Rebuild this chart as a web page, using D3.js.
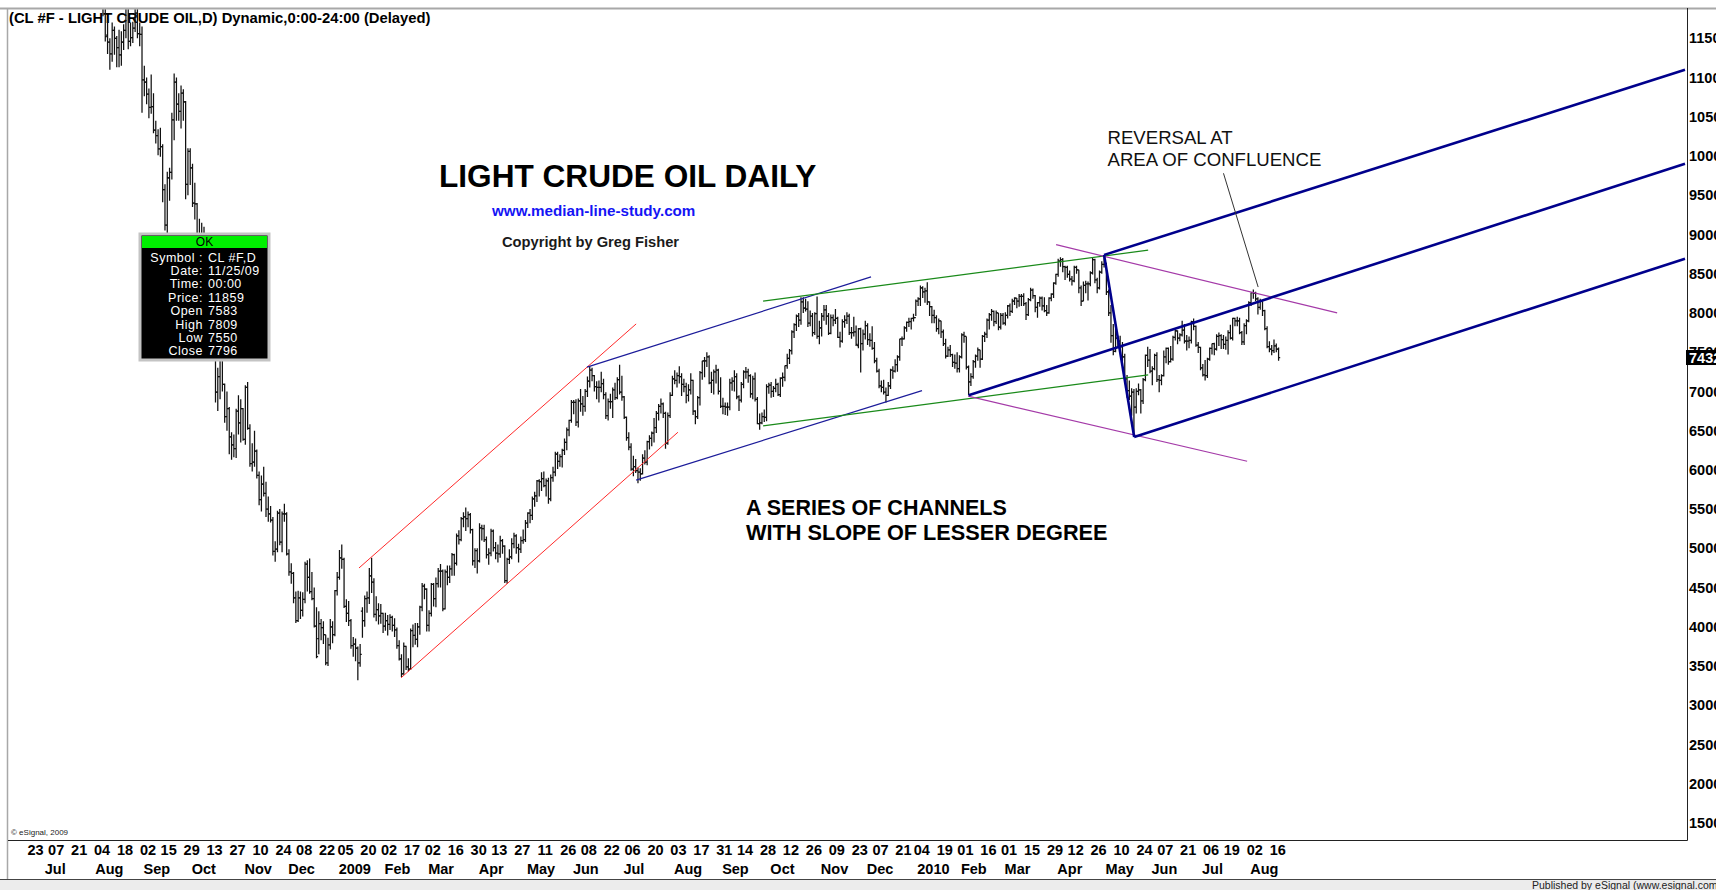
<!DOCTYPE html>
<html>
<head>
<meta charset="utf-8">
<script src="https://cdn.jsdelivr.net/npm/d3@7"></script>
<style>
  html, body { margin:0; padding:0; background:#fff; overflow:hidden; }
  svg { display:block; }
  .ax text { font-family:"Liberation Sans Narrow","Arial Narrow","Liberation Sans",sans-serif; font-weight:bold; font-size:14.5px; fill:#000; }
</style>
</head>
<body>
<script>
// exchange holidays (no bar on these weekdays)
var holidays = ["2008-07-04","2008-09-01","2008-11-27","2008-12-25","2009-01-01","2009-01-19","2009-02-16",
  "2009-04-10","2009-05-25","2009-07-03","2009-09-07","2009-11-26","2009-12-25","2010-01-01","2010-01-18",
  "2010-02-15","2010-04-02","2010-05-31","2010-07-05"];

// bottom axis labels
var dayTickDates = ["2008-06-23","2008-07-07","2008-07-21","2008-08-04","2008-08-18","2008-09-02","2008-09-15","2008-09-29",
  "2008-10-13","2008-10-27","2008-11-10","2008-11-24","2008-12-08","2008-12-22","2009-01-05","2009-01-20","2009-02-02",
  "2009-02-17","2009-03-02","2009-03-16","2009-03-30","2009-04-13","2009-04-27","2009-05-11","2009-05-26","2009-06-08",
  "2009-06-22","2009-07-06","2009-07-20","2009-08-03","2009-08-17","2009-08-31","2009-09-14","2009-09-28","2009-10-12",
  "2009-10-26","2009-11-09","2009-11-23","2009-12-07","2009-12-21","2010-01-04","2010-01-19","2010-02-01","2010-02-16",
  "2010-03-01","2010-03-15","2010-03-29","2010-04-12","2010-04-26","2010-05-10","2010-05-24","2010-06-07","2010-06-21",
  "2010-07-06","2010-07-19","2010-08-02","2010-08-16"];
var monthTickDates = ["2008-07-01","2008-08-01","2008-09-02","2008-10-01","2008-11-03","2008-12-01","2009-01-02","2009-02-02",
  "2009-03-02","2009-04-01","2009-05-01","2009-06-01","2009-07-01","2009-08-03","2009-09-01","2009-10-01","2009-11-02",
  "2009-12-01","2010-01-04","2010-02-01","2010-03-01","2010-04-01","2010-05-03","2010-06-01","2010-07-01","2010-08-02"];
var monthTickLabels = ["Jul","Aug","Sep","Oct","Nov","Dec","2009","Feb","Mar","Apr","May","Jun","Jul","Aug","Sep","Oct",
  "Nov","Dec","2010","Feb","Mar","Apr","May","Jun","Jul","Aug"];

// right axis, dollars (shown x100)
var yTicks = [15,20,25,30,35,40,45,50,55,60,65,70,75,80,85,90,95,100,105,110,115];
var lastPrice = 74.32;

// daily bars: date, open, high, low, close
var bars = [
// 2008 Aug
["2008-08-04",125.1,125.9,120.4,121.4],["2008-08-05",121.4,122.0,119.3,119.4],["2008-08-06",119.4,120.5,119.0,119.2],
["2008-08-07",119.2,121.0,117.8,120.0],["2008-08-08",120.0,120.2,114.6,115.2],["2008-08-11",115.4,117.4,113.0,114.5],
["2008-08-12",114.5,115.0,111.0,113.0],["2008-08-13",113.0,117.0,112.0,116.0],["2008-08-14",116.0,116.5,112.9,115.0],
["2008-08-15",115.0,115.3,111.3,113.8],["2008-08-18",113.8,116.1,111.3,112.9],["2008-08-19",112.9,115.9,111.5,114.5],
["2008-08-20",114.5,116.8,113.5,116.0],["2008-08-21",116.0,122.0,115.0,121.2],["2008-08-22",121.2,121.6,113.6,114.6],
["2008-08-25",114.6,117.0,114.0,115.1],["2008-08-26",115.1,117.1,114.4,116.3],["2008-08-27",116.3,120.4,115.8,118.2],
["2008-08-28",118.2,119.0,115.0,115.6],["2008-08-29",115.6,117.0,114.0,115.5],
// Sep
["2008-09-02",115.5,116.5,105.5,109.7],["2008-09-03",109.7,111.5,107.6,109.4],["2008-09-04",109.4,110.0,106.6,107.9],
["2008-09-05",107.9,108.6,104.8,106.2],["2008-09-08",106.2,110.4,105.4,106.3],["2008-09-09",106.3,108.0,102.9,103.3],
["2008-09-10",103.3,104.5,101.6,102.6],["2008-09-11",102.6,103.4,100.1,100.9],["2008-09-12",100.9,103.6,99.9,101.2],
["2008-09-15",101.2,101.5,94.1,95.7],["2008-09-16",95.7,96.4,90.5,91.2],["2008-09-17",91.2,98.0,90.0,97.2],
["2008-09-18",97.2,98.5,94.3,97.9],["2008-09-19",97.9,105.5,97.0,104.6],["2008-09-22",104.6,110.5,102.0,109.4],
["2008-09-23",109.4,110.0,104.5,106.6],["2008-09-24",106.6,108.0,104.5,105.7],["2008-09-25",105.7,109.0,103.5,108.0],
["2008-09-26",108.0,108.5,104.5,106.9],["2008-09-29",106.9,107.0,94.5,96.4],["2008-09-30",96.4,101.0,95.0,100.6],
// Oct
["2008-10-01",100.6,101.0,96.3,98.5],["2008-10-02",98.5,99.0,93.5,94.0],["2008-10-03",94.0,96.6,91.9,93.9],
["2008-10-06",93.9,94.0,87.0,87.8],["2008-10-07",87.8,92.0,87.5,90.1],["2008-10-08",90.1,91.5,86.5,89.0],
["2008-10-09",89.0,91.0,85.5,86.6],["2008-10-10",86.6,87.0,77.0,77.7],["2008-10-13",77.7,83.9,77.5,81.2],
["2008-10-14",81.2,83.3,77.5,78.6],["2008-10-15",78.6,79.5,73.9,74.5],["2008-10-16",74.5,75.4,68.6,69.9],
["2008-10-17",69.9,73.0,67.5,71.9],["2008-10-20",71.9,75.0,69.0,74.3],["2008-10-21",74.3,74.4,70.0,70.9],
["2008-10-22",70.9,71.0,66.0,66.8],["2008-10-23",66.8,70.0,65.0,67.8],["2008-10-24",67.8,68.0,62.0,64.2],
["2008-10-27",64.2,64.8,61.3,63.2],["2008-10-28",63.2,64.5,61.6,62.7],["2008-10-29",62.7,67.8,61.5,67.5],
["2008-10-30",67.5,69.5,64.5,66.0],["2008-10-31",66.0,69.0,63.5,67.8],
// Nov
["2008-11-03",67.8,67.9,63.7,63.9],["2008-11-04",63.9,70.8,63.2,70.5],["2008-11-05",70.5,71.2,65.1,65.3],
["2008-11-06",65.3,65.8,60.4,60.8],["2008-11-07",60.8,63.4,59.8,61.0],["2008-11-10",61.0,65.0,60.4,62.4],
["2008-11-11",62.4,62.6,58.9,59.3],["2008-11-12",59.3,59.8,55.5,56.2],["2008-11-13",56.2,59.3,54.7,58.2],
["2008-11-14",58.2,60.4,56.6,57.0],["2008-11-17",57.0,58.5,54.0,55.0],["2008-11-18",55.0,56.6,53.4,54.4],
["2008-11-19",54.4,55.4,53.3,53.6],["2008-11-20",53.6,54.0,49.1,49.6],["2008-11-21",49.6,50.9,48.3,49.9],
["2008-11-24",49.9,54.8,49.5,54.5],["2008-11-25",54.5,55.0,50.4,50.8],["2008-11-26",50.8,54.7,49.5,54.4],
["2008-11-28",54.4,55.7,53.4,54.4],
// Dec
["2008-12-01",54.4,54.6,49.1,49.3],["2008-12-02",49.3,49.9,46.5,47.0],["2008-12-03",47.0,48.1,45.5,46.8],
["2008-12-04",46.8,47.0,43.0,43.7],["2008-12-05",43.7,44.5,40.5,40.8],["2008-12-08",40.8,44.6,40.6,43.7],
["2008-12-09",43.7,44.5,41.0,42.1],["2008-12-10",42.1,44.4,41.3,43.5],["2008-12-11",43.5,48.3,43.0,48.0],
["2008-12-12",48.0,48.5,44.5,46.3],["2008-12-15",46.3,48.7,44.2,44.5],["2008-12-16",44.5,47.0,43.4,43.6],
["2008-12-17",43.6,45.0,39.9,40.1],["2008-12-18",40.1,42.5,36.0,36.2],["2008-12-19",38.5,42.0,36.5,40.4],
["2008-12-22",40.4,41.0,38.3,39.9],["2008-12-23",39.9,40.7,37.8,39.0],["2008-12-24",39.0,39.0,35.1,35.4],
["2008-12-26",35.4,38.6,35.0,37.7],["2008-12-29",37.7,41.0,37.1,40.0],["2008-12-30",40.0,40.7,37.9,39.0],
["2008-12-31",39.0,44.7,38.8,44.6],
// 2009 Jan
["2009-01-02",44.6,47.0,44.0,46.3],["2009-01-05",46.3,49.8,46.0,48.8],["2009-01-06",48.8,50.5,47.4,48.6],
["2009-01-07",48.6,48.8,42.4,42.6],["2009-01-08",42.6,43.5,40.6,41.7],["2009-01-09",41.7,43.3,40.1,40.8],
["2009-01-12",40.8,41.0,37.2,37.6],["2009-01-13",37.6,38.7,36.2,37.8],["2009-01-14",37.8,38.5,35.6,37.3],
["2009-01-15",37.3,37.5,33.2,35.4],["2009-01-16",35.4,37.8,34.9,36.5],["2009-01-20",42.0,42.5,38.6,40.8],
["2009-01-21",40.8,44.0,40.0,43.6],["2009-01-22",43.6,44.5,41.8,43.7],["2009-01-23",43.7,47.5,42.9,46.5],
["2009-01-26",46.5,48.8,44.3,45.7],["2009-01-27",45.7,46.2,41.2,41.6],["2009-01-28",41.6,43.9,40.7,42.2],
["2009-01-29",42.2,43.0,40.3,41.4],["2009-01-30",41.4,42.9,40.4,41.7],
// Feb
["2009-02-02",41.7,41.8,39.2,40.1],["2009-02-03",40.1,41.8,39.5,40.8],["2009-02-04",40.8,41.5,38.9,40.3],
["2009-02-05",40.3,41.6,39.6,41.2],["2009-02-06",41.2,41.4,39.4,40.2],["2009-02-09",40.2,41.1,38.7,39.6],
["2009-02-10",39.6,39.9,37.2,37.6],["2009-02-11",37.6,38.3,35.7,35.9],["2009-02-12",35.9,36.5,33.6,34.0],
["2009-02-13",34.0,38.0,33.9,37.5],["2009-02-17",37.5,37.6,34.5,34.9],["2009-02-18",34.9,36.0,34.3,34.6],
["2009-02-19",34.6,39.8,34.5,39.5],["2009-02-20",39.5,40.3,37.4,38.9],["2009-02-23",38.9,40.5,37.7,38.4],
["2009-02-24",38.4,40.5,37.4,40.0],["2009-02-25",40.0,42.7,39.0,42.5],["2009-02-26",42.5,45.6,42.0,45.2],
["2009-02-27",45.2,45.5,43.5,44.8],
// Mar
["2009-03-02",44.8,44.9,39.4,40.2],["2009-03-03",40.2,42.1,39.4,41.7],["2009-03-04",41.7,45.6,41.3,45.4],
["2009-03-05",45.4,45.6,42.6,43.6],["2009-03-06",43.6,46.3,42.5,45.5],["2009-03-09",45.5,47.5,45.0,47.1],
["2009-03-10",47.1,48.0,45.0,47.1],["2009-03-11",47.1,47.3,42.0,42.3],["2009-03-12",42.3,47.3,42.2,47.0],
["2009-03-13",47.0,47.8,45.3,46.3],["2009-03-16",46.3,47.8,45.6,47.4],["2009-03-17",47.4,49.4,46.5,49.2],
["2009-03-18",49.2,49.3,46.5,48.1],["2009-03-19",48.1,51.9,47.8,51.6],["2009-03-20",51.6,52.3,50.5,51.1],
["2009-03-23",51.1,54.0,50.9,53.8],["2009-03-24",53.8,54.6,52.7,54.0],["2009-03-25",54.0,55.2,52.2,53.8],
["2009-03-26",53.8,54.7,52.7,54.3],["2009-03-27",54.3,54.5,51.9,52.4],["2009-03-30",52.4,52.5,47.8,48.4],
["2009-03-31",48.4,50.0,47.5,49.7],
// Apr
["2009-04-01",49.7,50.0,46.8,48.4],["2009-04-02",48.4,53.2,48.2,52.6],["2009-04-03",52.6,53.0,51.0,52.5],
["2009-04-06",52.5,53.0,50.8,51.1],["2009-04-07",51.1,51.5,48.7,49.2],["2009-04-08",49.2,50.0,47.9,49.4],
["2009-04-09",49.4,52.5,49.0,52.2],["2009-04-13",52.2,52.4,49.6,50.1],["2009-04-14",50.1,50.8,48.6,49.4],
["2009-04-15",49.4,50.5,48.2,49.3],["2009-04-16",49.3,51.6,48.8,51.0],["2009-04-17",51.0,51.2,49.3,50.3],
["2009-04-20",50.3,50.4,45.6,45.9],["2009-04-21",45.9,48.8,45.5,48.6],["2009-04-22",48.6,49.9,48.0,48.9],
["2009-04-23",48.9,51.3,48.6,50.6],["2009-04-24",50.6,52.0,50.0,51.6],["2009-04-27",51.6,51.8,49.3,50.1],
["2009-04-28",50.1,50.6,48.2,49.9],["2009-04-29",49.9,51.5,49.4,51.0],["2009-04-30",51.0,52.4,50.6,51.1],
// May
["2009-05-01",51.1,53.6,50.8,53.2],["2009-05-04",53.2,54.6,52.6,54.5],["2009-05-05",54.5,55.0,53.2,54.2],
["2009-05-06",54.2,56.6,53.6,56.3],["2009-05-07",56.3,57.2,55.3,56.7],["2009-05-08",56.7,58.7,55.9,58.6],
["2009-05-11",58.6,58.8,56.6,58.5],["2009-05-12",58.5,59.7,57.3,58.9],["2009-05-13",58.9,59.8,57.8,58.0],
["2009-05-14",58.0,58.9,56.6,58.6],["2009-05-15",58.6,59.0,55.7,56.3],["2009-05-18",56.3,59.4,56.0,59.0],
["2009-05-19",59.0,60.4,58.5,59.7],["2009-05-20",59.7,62.3,59.2,62.0],["2009-05-21",62.0,62.3,60.1,61.1],
["2009-05-22",61.1,62.0,60.4,61.7],["2009-05-26",61.7,62.7,60.3,62.5],["2009-05-27",62.5,64.0,61.9,63.5],
["2009-05-28",63.5,65.4,62.5,65.1],["2009-05-29",65.1,66.4,64.3,66.3],
// Jun
["2009-06-01",66.3,68.9,66.0,68.6],["2009-06-02",68.6,68.9,67.1,68.6],["2009-06-03",68.6,69.0,65.6,66.1],
["2009-06-04",66.1,69.1,65.4,68.8],["2009-06-05",68.8,70.3,67.4,68.4],["2009-06-08",68.4,69.4,66.9,68.1],
["2009-06-09",68.1,70.3,67.4,70.0],["2009-06-10",70.0,71.9,69.3,71.3],["2009-06-11",71.3,73.2,70.5,72.7],
["2009-06-12",72.7,73.0,71.3,72.0],["2009-06-15",72.0,72.1,70.0,70.6],["2009-06-16",70.6,71.3,69.0,70.5],
["2009-06-17",70.5,71.4,68.6,70.5],["2009-06-18",70.5,72.5,69.9,71.0],["2009-06-19",71.0,71.6,69.0,69.6],
["2009-06-22",69.6,69.9,66.5,66.9],["2009-06-23",66.9,69.1,66.3,68.7],["2009-06-24",68.7,69.7,67.8,68.7],
["2009-06-25",68.7,70.5,66.6,70.2],["2009-06-26",70.2,71.1,68.9,69.2],["2009-06-29",69.2,71.8,69.0,71.5],
["2009-06-30",71.5,73.4,69.6,69.9],
// Jul
["2009-07-01",69.9,72.0,68.8,69.3],["2009-07-02",69.3,69.4,66.5,66.7],["2009-07-06",66.7,66.8,63.7,64.1],
["2009-07-07",64.1,64.8,62.5,62.9],["2009-07-08",62.9,63.4,59.9,60.1],["2009-07-09",60.1,61.8,59.2,60.4],
["2009-07-10",60.4,61.4,59.6,59.9],["2009-07-13",59.9,60.3,58.3,59.7],["2009-07-14",59.7,60.2,58.6,59.5],
["2009-07-15",59.5,62.0,59.4,61.5],["2009-07-16",61.5,62.5,60.7,61.0],["2009-07-17",61.0,63.7,60.6,63.6],
["2009-07-20",63.6,64.4,62.6,64.0],["2009-07-21",64.0,64.9,63.0,64.7],["2009-07-22",64.7,66.6,63.5,65.4],
["2009-07-23",65.4,67.5,64.7,67.2],["2009-07-24",67.2,68.4,66.3,68.1],["2009-07-27",68.1,69.1,67.2,68.4],
["2009-07-28",68.4,68.6,66.6,67.2],["2009-07-29",67.2,67.4,62.7,63.4],["2009-07-30",63.4,67.3,63.2,66.9],
["2009-07-31",66.9,69.9,66.6,69.5],
// Aug
["2009-08-03",69.5,72.0,69.4,71.6],["2009-08-04",71.6,72.7,70.9,71.4],["2009-08-05",71.4,72.4,70.5,72.0],
["2009-08-06",72.0,73.2,71.0,71.9],["2009-08-07",71.9,72.3,69.4,70.9],["2009-08-10",70.9,71.6,69.9,70.6],
["2009-08-11",70.6,71.1,68.5,69.5],["2009-08-12",69.5,70.9,68.7,70.2],["2009-08-13",70.2,72.3,69.6,71.4],
["2009-08-14",71.4,71.5,67.0,67.5],["2009-08-17",67.5,67.6,65.8,66.8],["2009-08-18",66.8,69.4,66.5,69.2],
["2009-08-19",69.2,72.6,68.2,72.4],["2009-08-20",72.4,73.9,71.5,73.9],["2009-08-21",73.9,74.4,71.8,73.9],
["2009-08-24",73.9,75.0,73.1,74.4],["2009-08-25",74.4,74.6,70.9,71.1],["2009-08-26",71.1,72.5,69.8,71.4],
["2009-08-27",71.4,72.8,69.6,72.5],["2009-08-28",72.5,73.4,71.0,72.7],["2009-08-31",72.7,72.9,69.6,70.0],
// Sep
["2009-09-01",70.0,71.8,67.9,68.1],["2009-09-02",68.1,69.2,67.1,68.1],["2009-09-03",68.1,68.6,67.0,68.0],
["2009-09-04",68.0,68.6,66.9,68.0],["2009-09-08",68.0,71.6,67.6,71.1],["2009-09-09",71.1,71.8,70.1,71.3],
["2009-09-10",71.3,72.7,70.0,71.9],["2009-09-11",71.9,72.3,69.0,69.3],["2009-09-14",69.3,69.5,67.5,68.9],
["2009-09-15",68.9,71.2,68.6,70.9],["2009-09-16",70.9,72.7,70.4,72.5],["2009-09-17",72.5,73.1,71.6,72.5],
["2009-09-18",72.5,72.9,71.1,72.0],["2009-09-21",72.0,72.2,69.2,69.7],["2009-09-22",69.7,72.0,69.0,71.6],
["2009-09-23",71.6,72.4,68.7,69.0],["2009-09-24",69.0,69.3,65.8,65.9],["2009-09-25",65.9,67.2,65.1,66.0],
["2009-09-28",66.0,67.3,65.8,66.8],["2009-09-29",66.8,67.7,66.1,66.7],["2009-09-30",66.7,70.9,66.2,70.6],
// Oct
["2009-10-01",70.6,71.1,69.7,70.8],["2009-10-02",70.8,71.2,69.2,70.0],["2009-10-05",70.0,70.7,69.3,70.4],
["2009-10-06",70.4,71.6,69.9,70.9],["2009-10-07",70.9,71.1,69.4,69.6],["2009-10-08",69.6,71.8,69.3,71.7],
["2009-10-09",71.7,72.4,70.6,71.8],["2009-10-12",71.8,73.3,71.3,73.3],["2009-10-13",73.3,74.8,72.9,74.2],
["2009-10-14",74.2,75.4,73.5,75.2],["2009-10-15",75.2,77.8,74.7,77.6],["2009-10-16",77.6,78.7,76.8,78.5],
["2009-10-19",78.5,79.8,77.7,79.6],["2009-10-20",79.6,80.0,78.2,79.1],["2009-10-21",79.1,82.0,78.5,81.4],
["2009-10-22",81.4,82.0,80.0,80.6],["2009-10-23",80.6,81.8,80.2,80.5],["2009-10-26",80.5,81.5,78.2,78.7],
["2009-10-27",78.7,80.3,78.3,79.6],["2009-10-28",79.6,80.0,77.0,77.5],["2009-10-29",77.5,80.1,77.2,79.9],
["2009-10-30",79.9,82.1,76.7,77.0],
// Nov
["2009-11-02",77.0,79.0,76.0,78.1],["2009-11-03",78.1,80.0,77.0,79.6],["2009-11-04",79.6,81.0,79.0,80.4],
["2009-11-05",80.4,81.0,78.5,79.6],["2009-11-06",79.6,80.0,77.2,77.4],["2009-11-09",77.4,79.8,77.3,79.4],
["2009-11-10",79.4,79.8,78.3,79.1],["2009-11-11",79.1,80.5,78.6,79.3],["2009-11-12",79.3,79.5,76.8,76.9],
["2009-11-13",76.9,77.6,75.6,76.4],["2009-11-16",76.4,79.2,76.2,78.9],["2009-11-17",78.9,79.7,78.1,79.1],
["2009-11-18",79.1,80.1,78.6,79.6],["2009-11-19",79.6,79.9,77.2,77.5],["2009-11-20",77.5,78.2,76.7,77.5],
["2009-11-23",77.5,79.5,77.0,77.6],["2009-11-24",77.6,78.4,75.8,76.0],["2009-11-25",75.83,78.09,75.50,77.96],
["2009-11-27",78.0,78.1,72.4,76.1],["2009-11-30",76.1,77.9,75.2,77.3],
// Dec
["2009-12-01",77.3,79.0,76.6,78.4],["2009-12-02",78.4,78.7,75.9,76.6],["2009-12-03",76.6,77.4,75.7,76.5],
["2009-12-04",76.5,78.3,75.3,75.5],["2009-12-07",75.5,76.3,73.6,73.9],["2009-12-08",73.9,74.3,72.4,72.6],
["2009-12-09",72.6,72.9,70.4,70.7],["2009-12-10",70.7,71.4,69.9,70.5],["2009-12-11",70.5,71.5,69.6,69.9],
["2009-12-14",69.9,70.5,68.6,69.5],["2009-12-15",69.5,71.2,69.4,70.7],["2009-12-16",70.7,72.9,70.3,72.7],
["2009-12-17",72.7,73.2,71.6,72.6],["2009-12-18",72.6,74.1,72.4,73.4],["2009-12-21",73.4,74.6,72.5,74.4],
["2009-12-22",74.4,76.7,73.9,76.7],["2009-12-23",76.7,77.0,75.8,76.7],["2009-12-24",76.7,78.3,76.6,78.1],
["2009-12-28",78.1,78.9,77.6,78.8],["2009-12-29",78.8,79.4,78.2,78.9],["2009-12-30",78.9,79.4,77.9,79.3],
["2009-12-31",79.3,79.9,78.9,79.4],
// 2010 Jan
["2010-01-04",79.4,81.7,79.6,81.5],["2010-01-05",81.5,82.0,80.9,81.8],["2010-01-06",81.8,83.5,80.9,83.2],
["2010-01-07",83.2,83.4,81.9,82.7],["2010-01-08",82.7,83.2,81.3,82.8],["2010-01-11",82.8,83.9,81.0,81.4],
["2010-01-12",81.4,81.5,79.6,80.8],["2010-01-13",80.8,80.9,78.7,79.7],["2010-01-14",79.7,80.4,78.7,79.4],
["2010-01-15",79.4,79.7,77.6,78.0],["2010-01-19",78.0,79.3,77.3,79.0],["2010-01-20",79.0,79.0,76.8,77.6],
["2010-01-21",77.6,77.9,75.8,76.1],["2010-01-22",76.1,76.7,74.2,74.5],["2010-01-25",74.5,75.7,74.4,75.3],
["2010-01-26",75.3,75.9,74.4,74.7],["2010-01-27",74.7,74.8,73.1,73.7],["2010-01-28",73.7,74.7,72.9,73.6],
["2010-01-29",73.6,75.0,72.4,72.9],
// Feb
["2010-02-01",72.9,74.6,72.4,74.4],["2010-02-02",74.4,77.4,74.2,77.2],["2010-02-03",77.2,77.6,76.2,77.0],
["2010-02-04",77.0,77.0,72.8,73.1],["2010-02-05",73.1,73.3,69.5,71.2],["2010-02-08",71.2,72.3,70.7,71.9],
["2010-02-09",71.9,74.0,71.6,73.8],["2010-02-10",73.8,74.7,73.0,74.5],["2010-02-11",74.5,75.6,73.9,75.3],
["2010-02-12",75.3,75.3,73.0,74.1],["2010-02-16",74.1,77.2,74.0,77.0],["2010-02-17",77.0,77.6,76.3,77.3],
["2010-02-18",77.3,79.3,76.8,79.1],["2010-02-19",79.1,80.0,77.9,79.8],["2010-02-22",79.8,80.5,79.0,80.2],
["2010-02-23",80.2,80.3,78.3,78.9],["2010-02-24",78.9,80.3,78.6,80.0],["2010-02-25",80.0,80.0,77.8,78.2],
["2010-02-26",78.2,80.0,77.9,79.7],
// Mar
["2010-03-01",79.7,80.0,78.5,78.7],["2010-03-02",78.7,80.1,78.4,79.7],["2010-03-03",79.7,81.0,79.3,80.9],
["2010-03-04",80.9,81.2,79.6,80.2],["2010-03-05",80.2,81.8,80.0,81.5],["2010-03-08",81.5,82.0,81.0,81.9],
["2010-03-09",81.9,81.9,80.6,81.5],["2010-03-10",81.5,82.4,80.8,82.1],["2010-03-11",82.1,82.4,80.9,82.1],
["2010-03-12",82.1,82.5,80.9,81.2],["2010-03-15",81.2,81.4,79.1,79.8],["2010-03-16",79.8,81.9,79.6,81.7],
["2010-03-17",81.7,83.2,81.5,82.9],["2010-03-18",82.9,83.1,81.8,82.2],["2010-03-19",82.2,82.3,80.1,80.7],
["2010-03-22",80.7,81.4,79.4,81.3],["2010-03-23",81.3,82.1,80.8,81.9],["2010-03-24",81.9,82.1,80.3,80.9],
["2010-03-25",80.9,82.0,80.1,80.3],["2010-03-26",80.3,81.0,79.6,80.0],["2010-03-29",80.0,82.0,79.9,81.9],
["2010-03-30",81.9,82.5,81.5,82.4],["2010-03-31",82.4,83.9,81.9,83.8],
// Apr
["2010-04-01",83.8,85.0,83.6,84.9],["2010-04-05",84.9,86.9,84.6,86.6],["2010-04-06",86.6,87.1,85.9,86.8],
["2010-04-07",86.8,87.0,85.2,85.9],["2010-04-08",85.9,86.0,84.2,85.8],["2010-04-09",85.8,86.0,84.5,84.9],
["2010-04-12",84.9,85.4,84.0,84.3],["2010-04-13",84.3,84.7,83.5,84.1],["2010-04-14",84.1,86.0,83.9,85.8],
["2010-04-15",85.8,86.0,85.0,85.5],["2010-04-16",85.5,85.5,82.5,83.2],["2010-04-19",83.2,83.5,80.9,81.5],
["2010-04-20",81.5,84.0,81.5,83.5],["2010-04-21",83.5,84.1,82.5,83.7],["2010-04-22",83.7,84.0,81.6,83.7],
["2010-04-23",83.7,85.3,83.4,85.1],["2010-04-26",85.1,87.1,84.9,86.8],["2010-04-27",86.8,86.9,83.8,84.2],
["2010-04-28",84.2,84.5,82.5,83.2],["2010-04-29",83.2,85.4,83.0,85.2],["2010-04-30",85.2,86.6,85.0,86.2],
// May
["2010-05-03",86.2,87.4,85.8,86.2],["2010-05-04",86.2,86.4,82.3,82.7],["2010-05-05",82.7,83.0,79.6,80.0],
["2010-05-06",80.0,81.0,76.2,77.1],["2010-05-07",77.1,78.6,74.6,75.1],["2010-05-10",75.1,78.0,75.0,76.8],
["2010-05-11",76.8,77.1,75.7,76.4],["2010-05-12",76.4,77.1,75.4,75.7],["2010-05-13",75.7,76.3,73.8,74.4],
["2010-05-14",74.4,74.8,71.1,71.6],["2010-05-17",71.6,72.1,69.2,70.1],["2010-05-18",70.1,71.4,68.9,69.4],
["2010-05-19",69.4,70.4,66.9,69.9],["2010-05-20",69.9,70.3,64.2,68.0],["2010-05-21",68.0,70.4,67.2,70.0],
["2010-05-24",70.0,71.0,69.5,70.2],["2010-05-25",70.2,70.3,67.2,68.8],["2010-05-26",68.8,71.7,68.4,71.5],
["2010-05-27",71.5,74.7,71.3,74.6],["2010-05-28",74.6,75.7,73.1,74.0],
// Jun
["2010-06-01",74.0,75.4,72.3,72.6],["2010-06-02",72.6,73.2,70.8,72.9],["2010-06-03",72.9,74.8,72.7,74.6],
["2010-06-04",74.6,75.0,71.2,71.5],["2010-06-07",71.5,72.1,69.9,71.4],["2010-06-08",71.4,72.2,70.8,72.0],
["2010-06-09",72.0,75.2,71.9,74.4],["2010-06-10",74.4,75.6,73.6,75.5],["2010-06-11",75.5,75.6,73.4,73.8],
["2010-06-14",73.8,75.8,73.7,74.1],["2010-06-15",74.1,77.1,73.9,76.9],["2010-06-16",76.9,77.9,76.5,77.7],
["2010-06-17",77.7,77.8,76.0,76.8],["2010-06-18",76.8,77.4,76.4,77.2],["2010-06-21",77.2,79.0,77.0,77.8],
["2010-06-22",77.8,78.6,76.1,76.4],["2010-06-23",76.4,77.2,75.2,76.4],["2010-06-24",76.4,77.0,75.5,76.5],
["2010-06-25",76.5,79.0,76.1,78.9],["2010-06-28",78.9,79.3,77.8,78.3],["2010-06-29",78.3,78.4,75.7,75.9],
["2010-06-30",75.9,76.3,74.9,75.6],
// Jul
["2010-07-01",75.6,75.7,72.7,73.0],["2010-07-02",73.0,73.5,71.9,72.1],["2010-07-06",72.1,74.0,71.4,72.0],
["2010-07-07",72.0,74.3,71.7,74.1],["2010-07-08",74.1,75.6,73.9,75.5],["2010-07-09",75.5,76.1,74.7,76.1],
["2010-07-12",76.1,76.2,74.6,75.4],["2010-07-13",75.4,77.3,75.2,77.0],["2010-07-14",77.0,77.5,75.8,77.1],
["2010-07-15",77.1,77.3,75.4,76.6],["2010-07-16",76.6,77.2,75.4,76.0],["2010-07-19",76.0,77.0,75.3,76.5],
["2010-07-20",76.5,77.8,74.7,77.5],["2010-07-21",77.5,78.5,76.6,76.8],["2010-07-22",76.8,79.4,76.5,79.3],
["2010-07-23",79.3,79.4,78.3,79.0],["2010-07-26",79.0,79.5,78.3,79.0],["2010-07-27",79.0,79.4,77.3,77.5],
["2010-07-28",77.5,77.7,75.9,76.3],["2010-07-29",76.3,78.7,75.9,78.4],["2010-07-30",78.4,79.2,77.3,79.0],
// Aug
["2010-08-02",79.0,81.5,78.8,81.3],["2010-08-03",81.3,82.6,80.9,82.6],["2010-08-04",82.6,83.0,81.8,82.5],
["2010-08-05",82.5,82.7,81.5,81.8],["2010-08-06",81.8,82.0,79.8,80.7],["2010-08-09",80.7,81.8,80.4,81.5],
["2010-08-10",81.5,81.5,79.6,80.3],["2010-08-11",80.3,80.4,77.8,78.0],["2010-08-12",78.0,78.3,75.5,75.7],
["2010-08-13",75.7,76.4,75.0,75.4],["2010-08-16",75.4,75.9,74.6,75.2],["2010-08-17",75.2,76.6,74.9,75.8],
["2010-08-18",75.8,76.1,75.0,75.4],["2010-08-19",75.4,75.6,73.9,74.32]
];

// drawn lines: [bar index 1, price 1, bar index 2, price 2]
var redLines = [[143.5,47.5,264.2,78.6],[161.8,33.5,282.4,64.8]];
var blueLines = [[242.8,73.1,366.5,84.6],[264.2,58.7,388.7,70.1]];
var greenLines = [[319.5,81.5,487.2,88.0],[319.5,65.6,487.2,72.1]];
var purpleLines = [[447.1,88.7,569.5,80.0],[408.8,69.4,530.3,61.1]];
var forkLines = [[409.0,69.5,721,99.0],[468,87.4,721,111.0],[481.1,64.2,721,86.9],[468,87.4,481.1,64.2]];
var pointerLines = [[520.0,97.8,535.1,83.3]];

// data window
var tipLabels = ["Symbol :","Date:","Time:","Price:","Open","High","Low","Close"];
var tipValues = ["CL #F,D","11/25/09","00:00","11859","7583","7809","7550","7796"];

var W = 1716, H = 890;
var svg = d3.select("body").append("svg").attr("width", W).attr("height", H);

// trading calendar
var days = [];
var fmt = d3.utcFormat("%Y-%m-%d");
for (var t = new Date(Date.UTC(2008,5,23)); t <= new Date(Date.UTC(2010,7,19)); t = d3.utcDay.offset(t,1)) {
  var wd = t.getUTCDay(), s = fmt(t);
  if (wd > 0 && wd < 6 && holidays.indexOf(s) < 0) days.push(s);
}
var dayIndex = new Map(days.map((d,i) => [d,i]));

var x = d3.scaleLinear().domain([0, dayIndex.get("2010-08-16")]).range([29.5, 1271.7]);
var y = d3.scaleLinear().domain([15, 115]).range([823, 38.3]);

var plotL = 8, plotR = 1687.5, plotT = 9.5, plotB = 840.5;

svg.append("defs").append("clipPath").attr("id","plotClip")
  .append("rect").attr("x",plotL).attr("y",plotT).attr("width",plotR-plotL).attr("height",plotB-plotT);

// frame
svg.append("rect").attr("x",0).attr("y",879).attr("width",W).attr("height",11).attr("fill","#ececec");
svg.append("line").attr("x1",0).attr("x2",W).attr("y1",879.5).attr("y2",879.5).attr("stroke","#444");
svg.append("line").attr("x1",0).attr("x2",W).attr("y1",8.5).attr("y2",8.5).attr("stroke","#a8a8a8").attr("stroke-width",2);
svg.append("line").attr("x1",7.5).attr("x2",7.5).attr("y1",8).attr("y2",879).attr("stroke","#a8a8a8").attr("stroke-width",1.5);
svg.append("line").attr("x1",plotR).attr("x2",plotR).attr("y1",8).attr("y2",plotB).attr("stroke","#222");
svg.append("line").attr("x1",plotL).attr("x2",plotR).attr("y1",plotB).attr("y2",plotB).attr("stroke","#222");

// texts under the bars
var sans = "'Liberation Sans',Arial,sans-serif";
svg.append("text").attr("x",9).attr("y",23)
  .style("font-family",sans).style("font-weight","bold").style("font-size","14.8px")
  .text("(CL #F - LIGHT CRUDE OIL,D) Dynamic,0:00-24:00 (Delayed)");

function label(txt, px, py, size, weight, color) {
  return svg.append("text").attr("x",px).attr("y",py).style("font-family",sans)
    .style("font-size",size+"px").style("font-weight",weight).attr("fill",color).text(txt);
}
label("LIGHT CRUDE OIL DAILY", 439, 187, 31.6, "bold", "#000");
label("www.median-line-study.com", 492, 215.5, 15.2, "bold", "#1414f5");
label("Copyright by Greg Fisher", 502, 247, 14.7, "bold", "#1a1a1a");
label("A SERIES OF CHANNELS", 746, 514.5, 21.5, "bold", "#000");
label("WITH SLOPE OF LESSER DEGREE", 746, 540, 21.7, "bold", "#000");
label("REVERSAL AT", 1107.5, 143.5, 18.6, "normal", "#111");
label("AREA OF CONFLUENCE", 1107.5, 165.5, 18.6, "normal", "#111");
label("\u00a9 eSignal, 2009", 11, 835, 8, "normal", "#222");
label("Published by eSignal (www.esignal.com)", 1532, 888.5, 10.5, "normal", "#222");

// price bars
var plot = svg.append("g").attr("clip-path","url(#plotClip)");
plot.append("g").selectAll("path").data(bars).join("path")
  .attr("d", d => {
    var bx = x(dayIndex.get(d[0]));
    return "M" + bx + "," + y(d[2]) + "V" + y(d[3]) +
      "M" + (bx-1.6) + "," + y(d[1]) + "H" + bx +
      "M" + bx + "," + y(d[4]) + "H" + (bx+1.6);
  })
  .attr("fill","none").attr("stroke","#111").attr("stroke-width",1.25);

// trend lines
function drawLines(list, color, width) {
  plot.append("g").selectAll("line").data(list).join("line")
    .attr("x1", d => x(d[0])).attr("y1", d => y(d[1]))
    .attr("x2", d => x(d[2])).attr("y2", d => y(d[3]))
    .attr("stroke", color).attr("stroke-width", width);
}
drawLines(redLines, "#ff2a2a", 1);
drawLines(blueLines, "#1c1c9a", 1.2);
drawLines(greenLines, "#1a8a1a", 1.2);
drawLines(purpleLines, "#a43aa8", 1.2);
drawLines(forkLines, "#00008c", 2.6);
drawLines(pointerLines, "#333", 1);

// right axis
var yAxis = svg.append("g").attr("class","ax").attr("transform","translate(1689,0)")
  .call(d3.axisRight(y).tickValues(yTicks).tickSize(0).tickPadding(0).tickFormat(d => d3.format("d")(d*100)));
yAxis.select(".domain").remove();

var lp = svg.append("g").attr("transform","translate(1686," + y(lastPrice) + ")");
lp.append("rect").attr("x",0).attr("y",-7.5).attr("width",32).attr("height",15).attr("fill","#000");
lp.append("text").attr("x",3).attr("y",5.5).attr("fill","#fff")
  .style("font-family","'Liberation Sans Narrow','Arial Narrow','Liberation Sans',sans-serif")
  .style("font-weight","bold").style("font-size","14.5px").text(d3.format("d")(lastPrice*100));

// bottom axis: days, then months
var xDays = svg.append("g").attr("class","ax").attr("transform","translate(0,855)")
  .call(d3.axisBottom(x).tickValues(dayTickDates.map(d => dayIndex.get(d))).tickSize(0)
    .tickFormat((v,i) => dayTickDates[i].slice(8)));
xDays.select(".domain").remove();
xDays.selectAll("text").attr("y",0).attr("dy",0).attr("dx",5.5);

var xMonths = svg.append("g").attr("class","ax").attr("transform","translate(0,874)")
  .call(d3.axisBottom(x).tickValues(monthTickDates.map(d => dayIndex.get(d))).tickSize(0)
    .tickFormat((v,i) => monthTickLabels[i]));
xMonths.select(".domain").remove();
xMonths.selectAll("text").attr("y",0).attr("dy",0).attr("dx",1).attr("text-anchor","start");

// data window box
var tip = svg.append("g").attr("transform","translate(140,234)");
tip.append("rect").attr("x",0).attr("y",0).attr("width",129).attr("height",126)
  .attr("fill","#000").attr("stroke","#c4c4c4").attr("stroke-width",3);
tip.append("rect").attr("x",2).attr("y",2).attr("width",125).attr("height",12).attr("fill","#00f000");
tip.append("text").attr("x",64.5).attr("y",12).attr("text-anchor","middle")
  .style("font-family",sans).style("font-size","12px").attr("fill","#000").text("OK");
tip.selectAll("text.lab").data(tipLabels).join("text").attr("class","lab")
  .attr("x",63).attr("y",(d,i) => 27.5 + i*13.4).attr("text-anchor","end")
  .style("font-family",sans).style("font-size","12.5px").style("letter-spacing","0.5px").attr("fill","#fff").text(d => d);
tip.selectAll("text.val").data(tipValues).join("text").attr("class","val")
  .attr("x",68).attr("y",(d,i) => 27.5 + i*13.4)
  .style("font-family",sans).style("font-size","12.5px").style("letter-spacing","0.5px").attr("fill","#fff").text(d => d);
</script>
</body>
</html>
